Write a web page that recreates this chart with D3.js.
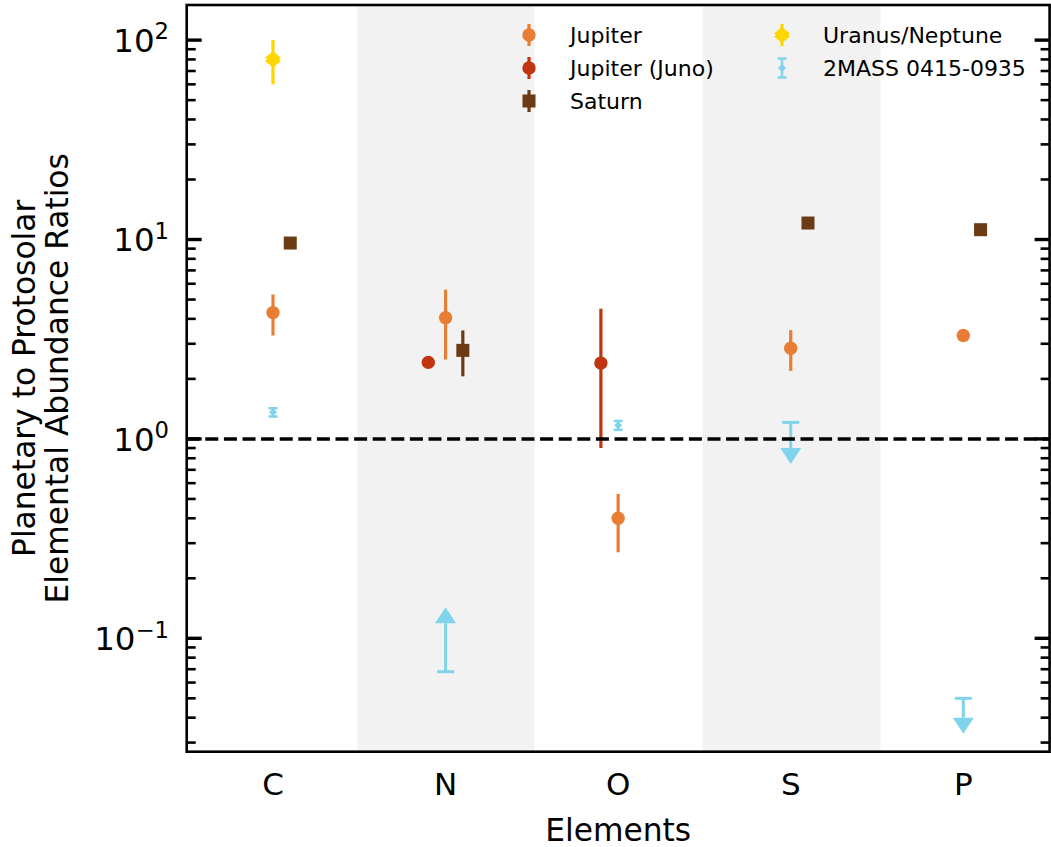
<!DOCTYPE html>
<html>
<head>
<meta charset="utf-8">
<script src="https://cdn.jsdelivr.net/npm/d3@7"></script>
<style>
  body { margin: 0; background: #fff; }
  svg { display: block; font-family: "DejaVu Sans", sans-serif; }
</style>
</head>
<body>
<svg id="chart" width="1051" height="847"></svg>
<script>
// Elements along the x axis
const elements = ["C", "N", "O", "S", "P"];
// Shaded background spans (in element-index units)
const shadedSpans = [[0.49, 1.515], [2.49, 3.52]];

// Jupiter (pre-Juno)
const jupiterEls = ["C", "N", "O", "S", "P"];
const jupiterVals = [4.3, 4.05, 0.40, 2.85, 3.3];
const jupiterErr = [1.0, 1.55, 0.13, 0.66, 0];

// Jupiter (Juno), asymmetric errors
const junoEls = ["N", "O"];
const junoVals = [2.42, 2.40];
const junoErrLo = [0, 1.5];
const junoErrHi = [0, 2.1];

// Saturn
const saturnEls = ["C", "N", "S", "P"];
const saturnVals = [9.6, 2.78, 12.1, 11.2];
const saturnErr = [0, 0.72, 0, 0];

// Uranus / Neptune
const iceEls = ["C"];
const iceVals = [80];
const iceErr = [20];

// 2MASS 0415-0935 measurements
const bdEls = ["C", "O"];
const bdVals = [1.36, 1.17];
const bdErr = [0.065, 0.06];

// 2MASS 0415-0935 limits
const bdLimitEls = ["N", "S", "P"];
const bdLimitVals = [0.068, 1.21, 0.050];
const bdLimitDir = ["lower", "upper", "upper"];
const bdLimitArrow = [0.051, 0.31, 0.010];

// Y axis ticks
const yMajorTicks = [0.1, 1, 10, 100];
const yTickExps = ["\u22121", "0", "1", "2"];

// Legend entries
const legendLabels = ["Jupiter", "Jupiter (Juno)", "Saturn", "Uranus/Neptune", "2MASS 0415-0935"];

const colors = {
  jupiter: "#e87d34",
  juno: "#c0340f",
  saturn: "#6b3b15",
  ice: "#ffd500",
  bd: "#7fd4ec",
  band: "#f2f2f2"
};

const svg = d3.select("#chart");
const plot = { left: 186.7, right: 1049.6, top: 5, bottom: 751.7 };

const x = d3.scaleLinear().domain([-0.5, 4.5]).range([plot.left, plot.right]);
const y = d3.scaleLog().domain([0.027, 150]).range([plot.bottom, plot.top]);
const xi = el => elements.indexOf(el);

// Shaded bands
svg.append("g").selectAll("rect").data(shadedSpans).join("rect")
  .attr("x", d => x(d[0])).attr("width", d => x(d[1]) - x(d[0]))
  .attr("y", plot.top).attr("height", plot.bottom - plot.top)
  .attr("fill", colors.band);

const marks = svg.append("g");

function errLine(g, cx, lo, hi, color, w) {
  g.append("line").attr("x1", cx).attr("x2", cx)
    .attr("y1", y(lo)).attr("y2", y(hi))
    .attr("stroke", color).attr("stroke-width", w);
}

function notchedDiamond(cx, cy, hw, hh, off) {
  // two overlapping diamonds, slightly offset vertically
  const a = `M${cx},${cy - off - hh}L${cx + hw},${cy - off}L${cx},${cy - off + hh}L${cx - hw},${cy - off}Z`;
  const b = `M${cx},${cy + off - hh}L${cx + hw},${cy + off}L${cx},${cy + off + hh}L${cx - hw},${cy + off}Z`;
  return a + b;
}
function diamond(cx, cy, s) {
  return `M${cx},${cy - s}L${cx + s},${cy}L${cx},${cy + s}L${cx - s},${cy}Z`;
}

// Jupiter
jupiterEls.forEach((el, i) => {
  const cx = x(xi(el));
  if (jupiterErr[i] > 0) errLine(marks, cx, jupiterVals[i] - jupiterErr[i], jupiterVals[i] + jupiterErr[i], colors.jupiter, 3.2);
  marks.append("circle").attr("cx", cx).attr("cy", y(jupiterVals[i])).attr("r", 6.7).attr("fill", colors.jupiter);
});

// Juno
junoEls.forEach((el, i) => {
  const cx = x(xi(el) - 0.1);
  if (junoErrLo[i] > 0 || junoErrHi[i] > 0) errLine(marks, cx, junoVals[i] - junoErrLo[i], junoVals[i] + junoErrHi[i], colors.juno, 3.2);
  marks.append("circle").attr("cx", cx).attr("cy", y(junoVals[i])).attr("r", 6.7).attr("fill", colors.juno);
});

// Saturn
saturnEls.forEach((el, i) => {
  const cx = x(xi(el) + 0.1);
  if (saturnErr[i] > 0) errLine(marks, cx, saturnVals[i] - saturnErr[i], saturnVals[i] + saturnErr[i], colors.saturn, 3.2);
  marks.append("rect").attr("x", cx - 6.5).attr("y", y(saturnVals[i]) - 6.5)
    .attr("width", 13).attr("height", 13).attr("fill", colors.saturn);
});

// Uranus / Neptune
iceEls.forEach((el, i) => {
  const cx = x(xi(el));
  errLine(marks, cx, iceVals[i] - iceErr[i], iceVals[i] + iceErr[i], colors.ice, 3.2);
  marks.append("path").attr("d", notchedDiamond(cx, y(iceVals[i]), 8, 6.5, 1.6)).attr("fill", colors.ice);
});

// 2MASS measurements
bdEls.forEach((el, i) => {
  const cx = x(xi(el));
  const lo = y(bdVals[i] - bdErr[i]), hi = y(bdVals[i] + bdErr[i]);
  errLine(marks, cx, bdVals[i] - bdErr[i], bdVals[i] + bdErr[i], colors.bd, 2.5);
  [lo, hi].forEach(yy => marks.append("line").attr("x1", cx - 4.5).attr("x2", cx + 4.5)
    .attr("y1", yy).attr("y2", yy).attr("stroke", colors.bd).attr("stroke-width", 2.5));
  marks.append("path").attr("d", diamond(cx, y(bdVals[i]), 4)).attr("fill", colors.bd);
});

// 2MASS limits
bdLimitEls.forEach((el, i) => {
  const cx = x(xi(el));
  const v = bdLimitVals[i];
  const up = bdLimitDir[i] === "lower";
  const end = up ? v + bdLimitArrow[i] : v - bdLimitArrow[i];
  const y0 = y(v), y1 = y(end);
  marks.append("line").attr("x1", cx).attr("x2", cx).attr("y1", y0).attr("y2", y1)
    .attr("stroke", colors.bd).attr("stroke-width", 3);
  marks.append("line").attr("x1", cx - 8.5).attr("x2", cx + 8.5).attr("y1", y0).attr("y2", y0)
    .attr("stroke", colors.bd).attr("stroke-width", 3);
  const tip = up ? y1 - 16 : y1 + 16;
  marks.append("path").attr("d", `M${cx - 10.5},${y1}L${cx + 10.5},${y1}L${cx},${tip}Z`).attr("fill", colors.bd);
});

// Reference line at unity
svg.append("line").attr("x1", plot.left).attr("x2", plot.right)
  .attr("y1", y(1)).attr("y2", y(1))
  .attr("stroke", "#000").attr("stroke-width", 3.5).attr("stroke-dasharray", "13 5.6");

// Y ticks (inward, both sides)
const minorTicks = y.ticks().filter(t => !yMajorTicks.some(m => Math.abs(Math.log10(t / m)) < 1e-9));
function drawTicks(side, vals, len, w) {
  const g = svg.append("g");
  g.selectAll("line").data(vals).join("line")
    .attr("x1", side === "left" ? plot.left : plot.right)
    .attr("x2", side === "left" ? plot.left + len : plot.right - len)
    .attr("y1", d => y(d)).attr("y2", d => y(d))
    .attr("stroke", "#000").attr("stroke-width", w);
}
drawTicks("left", yMajorTicks, 15, 3.4);
drawTicks("right", yMajorTicks, 15, 3.4);
drawTicks("left", minorTicks, 9, 2.6);
drawTicks("right", minorTicks, 9, 2.6);

// Frame
svg.append("rect").attr("x", plot.left).attr("y", plot.top)
  .attr("width", plot.right - plot.left).attr("height", plot.bottom - plot.top)
  .attr("fill", "none").attr("stroke", "#000").attr("stroke-width", 2.6);

// Y tick labels
const yl = svg.append("g").attr("font-size", 32.5).attr("fill", "#000");
yMajorTicks.forEach((t, i) => {
  const txt = yl.append("text").attr("x", 169).attr("y", y(t) + 11.8).attr("text-anchor", "end");
  txt.append("tspan").text("10");
  txt.append("tspan").attr("font-size", 22.7).attr("dy", -12.5).text(yTickExps[i]);
});

// X tick labels
svg.append("g").selectAll("text").data(elements).join("text")
  .attr("x", (d, i) => x(i)).attr("y", 795)
  .attr("text-anchor", "middle").attr("font-size", 31).text(d => d);

// Axis titles
svg.append("text").attr("x", x(2)).attr("y", 841).attr("text-anchor", "middle")
  .attr("font-size", 31.3).text("Elements");
const ymid = (plot.top + plot.bottom) / 2;
svg.append("text").attr("transform", `translate(35,${ymid}) rotate(-90)`)
  .attr("text-anchor", "middle").attr("font-size", 31.3).text("Planetary to Protosolar");
svg.append("text").attr("transform", `translate(68,${ymid}) rotate(-90)`)
  .attr("text-anchor", "middle").attr("font-size", 31.3).text("Elemental Abundance Ratios");

// Legend
const leg = svg.append("g").attr("font-size", 22);
const rows = [35, 68, 101];
const legendPos = [[529, rows[0]], [529, rows[1]], [529, rows[2]], [782, rows[0]], [782, rows[1]]];
legendLabels.forEach((lab, i) => {
  const [lx, ly] = legendPos[i];
  leg.append("text").attr("x", lx + 41).attr("y", ly + 8).text(lab);
});
// Jupiter
leg.append("line").attr("x1", 529).attr("x2", 529).attr("y1", rows[0] - 11).attr("y2", rows[0] + 11)
  .attr("stroke", colors.jupiter).attr("stroke-width", 3.2);
leg.append("circle").attr("cx", 529).attr("cy", rows[0]).attr("r", 6.7).attr("fill", colors.jupiter);
// Juno
leg.append("line").attr("x1", 529).attr("x2", 529).attr("y1", rows[1] - 11).attr("y2", rows[1] + 11)
  .attr("stroke", colors.juno).attr("stroke-width", 3.2);
leg.append("circle").attr("cx", 529).attr("cy", rows[1]).attr("r", 6.7).attr("fill", colors.juno);
// Saturn
leg.append("line").attr("x1", 529).attr("x2", 529).attr("y1", rows[2] - 11).attr("y2", rows[2] + 11)
  .attr("stroke", colors.saturn).attr("stroke-width", 3.2);
leg.append("rect").attr("x", 522.5).attr("y", rows[2] - 6.5).attr("width", 13).attr("height", 13).attr("fill", colors.saturn);
// Uranus/Neptune
leg.append("line").attr("x1", 782).attr("x2", 782).attr("y1", rows[0] - 11).attr("y2", rows[0] + 11)
  .attr("stroke", colors.ice).attr("stroke-width", 3.2);
leg.append("path").attr("d", notchedDiamond(782, rows[0], 8, 6.5, 1.6)).attr("fill", colors.ice);
// 2MASS
leg.append("line").attr("x1", 782).attr("x2", 782).attr("y1", rows[1] - 9.5).attr("y2", rows[1] + 9.5)
  .attr("stroke", colors.bd).attr("stroke-width", 2.5);
[rows[1] - 9.5, rows[1] + 9.5].forEach(yy => leg.append("line").attr("x1", 777.5).attr("x2", 786.5)
  .attr("y1", yy).attr("y2", yy).attr("stroke", colors.bd).attr("stroke-width", 2.5));
leg.append("path").attr("d", diamond(782, rows[1], 4)).attr("fill", colors.bd);
</script>
</body>
</html>
